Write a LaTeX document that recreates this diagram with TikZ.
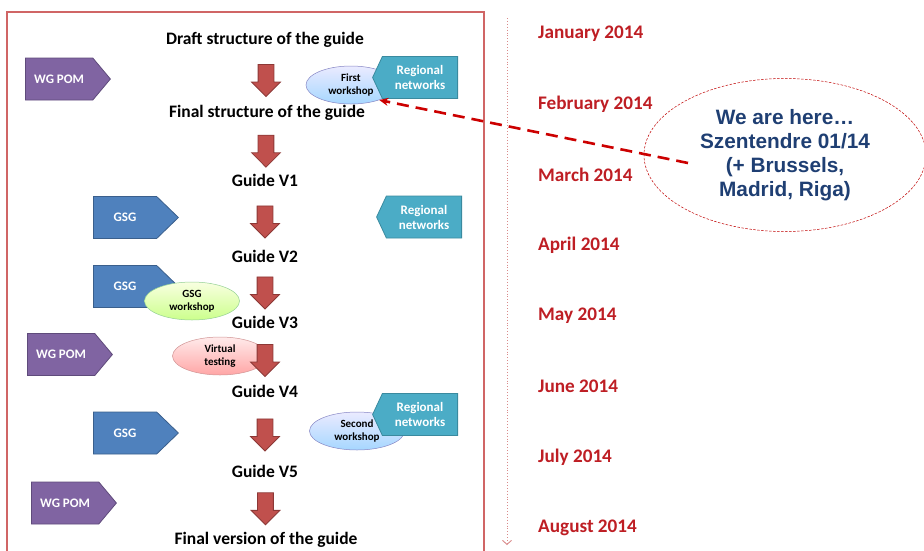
\documentclass[tikz,border=0pt]{standalone}
\usepackage{fontspec}
\setmainfont{Carlito}
\newfontfamily\notefont{Liberation Sans}
\usepackage{tikz}
\usetikzlibrary{positioning,shapes.geometric,shapes.symbols,shapes.arrows,arrows.meta}

\definecolor{pomviolet}{HTML}{8064A2}
\definecolor{pomborder}{HTML}{5F4B7B}
\definecolor{gsgblue}{HTML}{4F81BD}
\definecolor{gsgborder}{HTML}{3A5F8C}
\definecolor{regteal}{HTML}{4BACC6}
\definecolor{regborder}{HTML}{3A8A9F}
\definecolor{flowred}{HTML}{C0504D}
\definecolor{flowborder}{HTML}{8C3836}
\definecolor{framered}{HTML}{D06565}
\definecolor{monthred}{HTML}{BE1E24}
\definecolor{herenavy}{HTML}{1F3F73}
\definecolor{timeline}{HTML}{D98A8A}

\tikzset{
  stage/.style={font=\fontsize{17.5}{20}\selectfont\bfseries, inner sep=1pt},
  month/.style={font=\fontsize{19.2}{22}\selectfont\bfseries, text=monthred,
    anchor=west, inner sep=0pt},
  flowarrow/.style={single arrow, shape border rotate=270, draw=flowborder,
    fill=flowred, line width=0.8pt, inner sep=7.5pt, minimum height=32pt,
    minimum width=28pt, single arrow head extend=6.5pt},
  actor/.style={signal, line width=0.8pt, text=white, align=center,
    font=\fontsize{13}{15}\selectfont\bfseries, minimum height=42pt,
    minimum width=85pt, inner sep=0pt},
  wgpom/.style={actor, signal to=east, signal pointer angle=100,
    fill=pomviolet, draw=pomborder, anchor=west},
  gsg/.style={actor, signal to=east, signal pointer angle=88,
    fill=gsgblue, draw=gsgborder, anchor=west},
  regnet/.style={actor, signal to=west, signal pointer angle=130,
    fill=regteal, draw=regborder, anchor=east},
  workshop/.style={ellipse, minimum width=95pt, minimum height=38pt,
    inner sep=0pt, align=center, line width=0.5pt,
    font=\fontsize{11}{13}\selectfont\bfseries},
}

\begin{document}
\begin{tikzpicture}[x=1pt,y=-1pt]
  \useasboundingbox (0,0) rectangle (924,550);

  % frame and time line
  \draw[framered, line width=1.4pt] (7,560) |- (484,12) -- (484,560);
  \coordinate (tltop) at (507,18);
  \coordinate (tlend) at (507,545);
  \draw[timeline, dotted, line width=0.9pt,
    -{Straight Barb[length=4pt,width=9pt]}] (tltop) -- (tlend);

  \foreach \m [count=\i] in {January,February,March,April,May,June,July,August}
    \node[month] (m\i) at (538,{34+70.5*(\i-1)}) {\m\ 2014};

  % workshops behind the arrows
  \node[workshop, draw=blue!35!gray!70, top color=blue!8,
    bottom color=blue!45!cyan!35, minimum width=90pt]
    (firstws) at (351,85) {First\\workshop};
  \node[workshop, draw=blue!35!gray!70, top color=blue!8,
    bottom color=blue!45!cyan!35]
    (secondws) at (357,431) {Second\\workshop};
  \node[workshop, draw=red!40!gray!60, top color=red!8,
    bottom color=red!35]
    (virtws) at (220,356) {Virtual\\testing};

  % stages of the guide
  \node[stage] (draft) at (265,40) {Draft structure of the guide};
  \node[stage] (finalstr) at (267,113) {Final structure of the guide};
  \node[stage] (gv1) at (265,180) {Guide V1};
  \node[stage] (gv2) at (265,256) {Guide V2};
  \node[stage] (gv3) at (265,322) {Guide V3};
  \node[stage] (gv4) at (265,391) {Guide V4};
  \node[stage] (gv5) at (265,471) {Guide V5};
  \node[stage] (finalver) at (266,540) {Final version of the guide};

  \foreach \a/\b [count=\i] in {draft/finalstr,finalstr/gv1,gv1/gv2,gv2/gv3,
      gv3/gv4,gv4/gv5,gv5/finalver}
    \path (\a) -- node[flowarrow] (flow\i) {} (\b);

  % who works on it
  \node[wgpom] (pom1) at (25,79) {WG POM};
  \node[wgpom] (pom2) at (27,354.5) {WG POM};
  \node[wgpom] (pom3) at (31,503) {WG POM};
  \node[gsg] (gsg1) at (93,217.5) {GSG};
  \node[gsg] (gsg2) at (93,286.5) {GSG};
  \node[gsg] (gsg3) at (93,433) {GSG};
  \node[regnet] (reg1) at (458,77.5) {Regional\\networks};
  \node[regnet] (reg2) at (462,217) {Regional\\networks};
  \node[regnet] (reg3) at (458,414.5) {Regional\\networks};

  \node[workshop, draw=green!40!gray!60, top color=green!20!yellow!12,
    bottom color=green!45!yellow!45]
    (gsgws) at (192,301) {GSG\\workshop};

  % where we are
  \node[ellipse, draw=red!75!black, dashed, dash pattern=on 2.5pt off 1.5pt,
    line width=0.5pt, minimum width=282pt, minimum height=153pt,
    text=herenavy, align=center,
    font=\notefont\fontsize{20.8}{24}\selectfont\bfseries
  ] (here) at (785,155) {We are here\ldots\\Szentendre 01/14\\(+ Brussels,\\Madrid, Riga)};

  \coordinate (herein) at (688,163);
  \draw[red!80!black, line width=2.6pt, dash pattern=on 12pt off 7pt,
    -{Stealth[length=9pt,width=8pt]}] (herein) -- (firstws.-28);

\end{tikzpicture}
\end{document}
